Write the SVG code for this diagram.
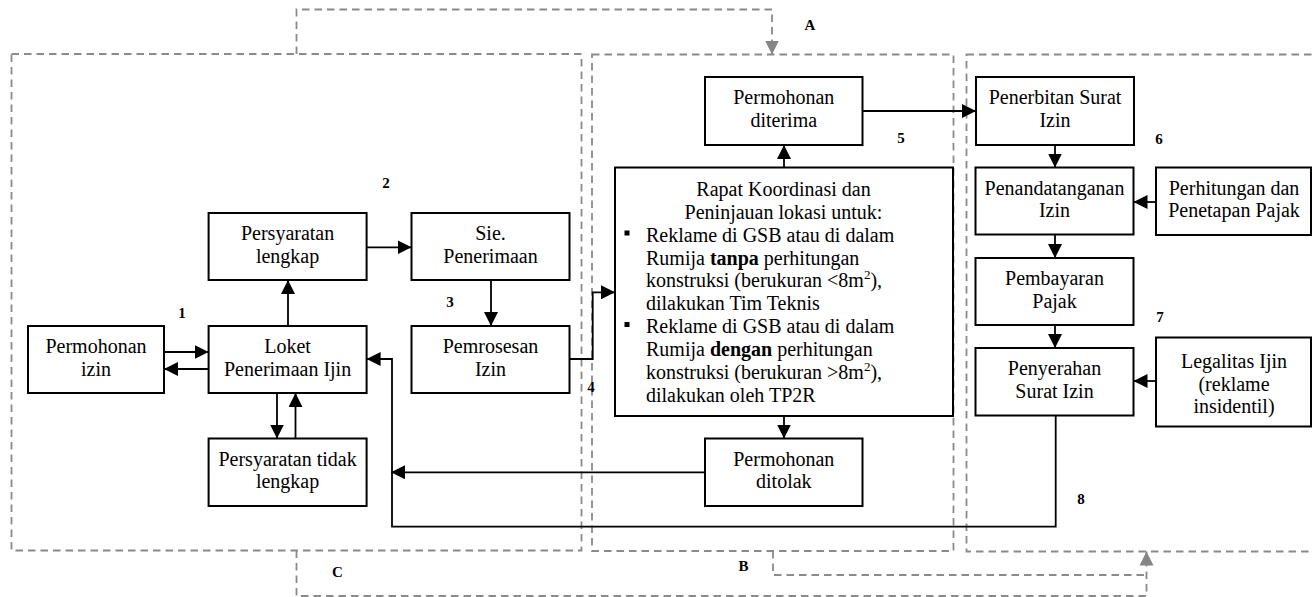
<svg xmlns="http://www.w3.org/2000/svg" width="1312" height="597" viewBox="0 0 1312 597">
  <defs>
    <marker id="ah" markerUnits="userSpaceOnUse" markerWidth="15" markerHeight="14" refX="14" refY="7" orient="auto">
      <path d="M0,0 L14,7 L0,14 z" fill="#000"/>
    </marker>
    <marker id="ahg" markerUnits="userSpaceOnUse" markerWidth="15" markerHeight="14" refX="14" refY="7" orient="auto">
      <path d="M0,0 L14,7 L0,14 z" fill="#858585"/>
    </marker>
    <style>
      .box { fill: #fff; stroke: #000; stroke-width: 2; }
      .zone { fill: none; stroke: #8a8a8a; stroke-width: 1.8; stroke-dasharray: 7.5 5; }
      .link { fill: none; stroke: #000; stroke-width: 1.8; marker-end: url(#ah); }
      .plain { fill: none; stroke: #000; stroke-width: 1.8; }
      .glink { fill: none; stroke: #8a8a8a; stroke-width: 1.8; stroke-dasharray: 7.5 5; }
      .glink-end { marker-end: url(#ahg); }
      text { font-family: "Liberation Serif", "Times New Roman", serif; fill: #000; }
      .t { font-size: 20px; text-anchor: middle; }
      .tl { font-size: 20px; }
      .num { font-size: 15px; font-weight: bold; text-anchor: middle; }
      .b { font-weight: bold; }
    </style>
  </defs>

  <!-- dashed zones -->
  <g id="zones">
    <rect class="zone" x="11.5" y="54" width="570" height="496.5"/>
    <rect class="zone" x="592" y="54.5" width="361.5" height="496.5"/>
    <rect class="zone" x="966.5" y="54.5" width="360" height="497"/>
  </g>

  <!-- connectors -->
  <g id="connectors">
    <path class="link" d="M164,352 H208.6"/>
    <path class="link" d="M208.6,369 H164"/>
    <path class="link" d="M288,326 V280"/>
    <path class="link" d="M366.6,247.3 H411.5"/>
    <path class="link" d="M491,280 V326"/>
    <path class="link" d="M277,393 V438.5"/>
    <path class="link" d="M295.5,438.5 V393"/>
    <path class="link" d="M569.5,359 H592.7 V292.3 H615"/>
    <path class="link" d="M784,167.5 V145"/>
    <path class="link" d="M862.5,111 H976"/>
    <path class="link" d="M784,416 V438.5"/>
    <path class="link" d="M705,472.3 H391"/>
    <path class="link" d="M1055,145 V167.5"/>
    <path class="link" d="M1055,234.5 V258"/>
    <path class="link" d="M1055,325 V348"/>
    <path class="link" d="M1156,202 H1133.5"/>
    <path class="link" d="M1156,381 H1133.5"/>
    <path class="link" d="M1055.7,415.5 V526.7 H392 V359 H366.6"/>
    <path class="glink glink-end" d="M296.5,54 V9.5 H772 V54.5"/>
    <path class="glink glink-end" d="M296.5,550.5 V596 H1146.5 V551.5"/>
    <path class="glink" d="M773,551 V575 H1146.5"/>
  </g>

  <!-- nodes -->
  <g id="permohonan-izin">
    <rect class="box" x="28" y="326" width="136" height="67"/>
    <text class="t" x="96" y="353.3">Permohonan</text>
    <text class="t" x="96" y="375.5">izin</text>
  </g>
  <g id="loket">
    <rect class="box" x="208.6" y="326" width="158" height="67"/>
    <text class="t" x="287.6" y="353.3">Loket</text>
    <text class="t" x="287.6" y="375.5">Penerimaan Ijin</text>
  </g>
  <g id="persyaratan-lengkap">
    <rect class="box" x="208.6" y="213" width="158" height="67"/>
    <text class="t" x="287.6" y="240.3">Persyaratan</text>
    <text class="t" x="287.6" y="262.5">lengkap</text>
  </g>
  <g id="sie-penerimaan">
    <rect class="box" x="411.5" y="213" width="158" height="67"/>
    <text class="t" x="490.5" y="240.3">Sie.</text>
    <text class="t" x="490.5" y="262.5">Penerimaan</text>
  </g>
  <g id="pemrosesan">
    <rect class="box" x="411.5" y="326" width="158" height="67"/>
    <text class="t" x="490.5" y="353.3">Pemrosesan</text>
    <text class="t" x="490.5" y="375.5">Izin</text>
  </g>
  <g id="persyaratan-tidak-lengkap">
    <rect class="box" x="208.6" y="438.5" width="158" height="67.5"/>
    <text class="t" x="287.6" y="465.8">Persyaratan tidak</text>
    <text class="t" x="287.6" y="488">lengkap</text>
  </g>
  <g id="permohonan-diterima">
    <rect class="box" x="705" y="77" width="157.5" height="68"/>
    <text class="t" x="783.8" y="104.3">Permohonan</text>
    <text class="t" x="783.8" y="126.5">diterima</text>
  </g>
  <g id="rapat">
    <rect class="box" x="615" y="167.5" width="338" height="248.5"/>
    <text class="t" x="783.5" y="196">Rapat Koordinasi dan</text>
    <text class="t" x="783.5" y="218.8">Peninjauan lokasi untuk:</text>
    <rect x="624.5" y="230.5" width="5" height="5" fill="#000"/>
    <text class="tl" x="646" y="241.7">Reklame di GSB atau di dalam</text>
    <text class="tl" x="646" y="264.5">Rumija <tspan class="b">tanpa</tspan> perhitungan</text>
    <text class="tl" x="646" y="287.4">konstruksi (berukuran &lt;8m<tspan font-size="13" dy="-8">2</tspan><tspan dy="8">),</tspan></text>
    <text class="tl" x="646" y="310.2">dilakukan Tim Teknis</text>
    <rect x="624.5" y="322" width="5" height="5" fill="#000"/>
    <text class="tl" x="646" y="333.1">Reklame di GSB atau di dalam</text>
    <text class="tl" x="646" y="355.9">Rumija <tspan class="b">dengan</tspan> perhitungan</text>
    <text class="tl" x="646" y="378.8">konstruksi (berukuran &gt;8m<tspan font-size="13" dy="-8">2</tspan><tspan dy="8">),</tspan></text>
    <text class="tl" x="646" y="401.6">dilakukan oleh TP2R</text>
  </g>
  <g id="permohonan-ditolak">
    <rect class="box" x="705" y="438.5" width="157.5" height="67.5"/>
    <text class="t" x="783.8" y="465.8">Permohonan</text>
    <text class="t" x="783.8" y="488">ditolak</text>
  </g>
  <g id="penerbitan">
    <rect class="box" x="976" y="77" width="158" height="68"/>
    <text class="t" x="1055" y="104.3">Penerbitan Surat</text>
    <text class="t" x="1055" y="126.5">Izin</text>
  </g>
  <g id="penandatanganan">
    <rect class="box" x="975.5" y="167.5" width="158" height="67"/>
    <text class="t" x="1054.5" y="194.8">Penandatanganan</text>
    <text class="t" x="1054.5" y="217">Izin</text>
  </g>
  <g id="pembayaran">
    <rect class="box" x="975.5" y="258" width="158" height="67"/>
    <text class="t" x="1054.5" y="285.3">Pembayaran</text>
    <text class="t" x="1054.5" y="307.5">Pajak</text>
  </g>
  <g id="penyerahan">
    <rect class="box" x="975.5" y="348" width="158" height="67.5"/>
    <text class="t" x="1054.5" y="375.3">Penyerahan</text>
    <text class="t" x="1054.5" y="397.5">Surat Izin</text>
  </g>
  <g id="perhitungan">
    <rect class="box" x="1156" y="167.5" width="155" height="67.5"/>
    <text class="t" x="1234" y="194.8">Perhitungan dan</text>
    <text class="t" x="1234" y="217">Penetapan Pajak</text>
  </g>
  <g id="legalitas">
    <rect class="box" x="1156" y="337.5" width="155" height="89"/>
    <text class="t" x="1234" y="368.3">Legalitas Ijin</text>
    <text class="t" x="1234" y="390.8">(reklame</text>
    <text class="t" x="1234" y="413.3">insidentil)</text>
  </g>

  <!-- step labels -->
  <g id="labels">
    <text class="num" x="182" y="318">1</text>
    <text class="num" x="386" y="188">2</text>
    <text class="num" x="450" y="307">3</text>
    <text class="num" x="591" y="391.5">4</text>
    <text class="num" x="901" y="143">5</text>
    <text class="num" x="1159" y="144">6</text>
    <text class="num" x="1160" y="322">7</text>
    <text class="num" x="1081" y="504">8</text>
    <text class="num" x="810" y="30">A</text>
    <text class="num" x="743.5" y="571">B</text>
    <text class="num" x="337.5" y="577">C</text>
  </g>
</svg>
